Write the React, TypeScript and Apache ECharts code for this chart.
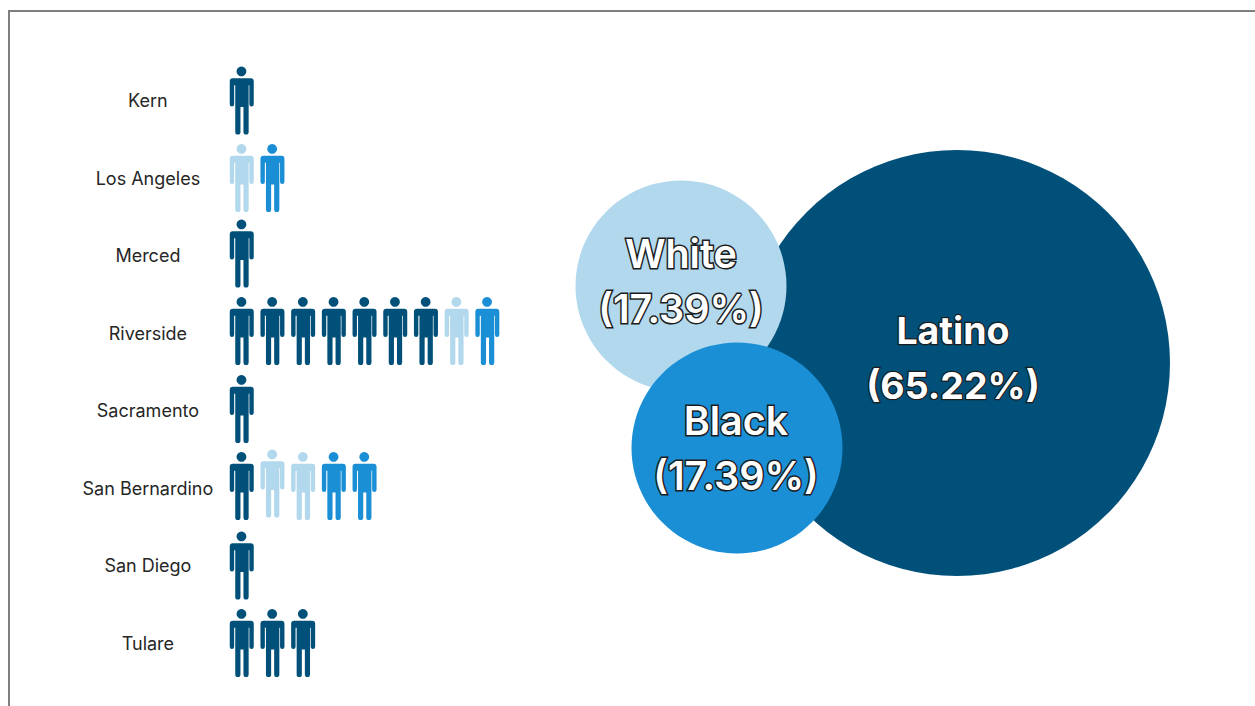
import React, { useEffect, useRef } from "react";
import * as echarts from "echarts";

const counties = ["Kern", "Los Angeles", "Merced", "Riverside", "Sacramento", "San Bernardino", "San Diego", "Tulare"];
const latinoCounts = [1, 0, 1, 7, 1, 1, 1, 3];
const whiteCounts = [0, 1, 0, 1, 0, 2, 0, 0];
const blackCounts = [0, 1, 0, 1, 0, 2, 0, 0];

const groups = ["Latino", "White", "Black"];
const shares = [65.22, 17.39, 17.39];

const NAVY = "#00507A";
const PALE = "#B1D8EC";
const BLUE = "#1A8FD6";
const groupColors = [NAVY, PALE, BLUE];

// Bubble placement, in page pixels, and diameters per group.
const bubbleX = [957, 681, 737];
const bubbleY = [363, 286, 448];
const bubbleDiameters = [426, 211, 211];

// Hand spacing of the rows: upward shift of each row, in pixels.
const rowShift = [0, 0, 2, 2, 1.5, 2, 0, 0];

// A standing figure drawn in a 24 x 68 box.
const PERSON =
  "path://M11.7 0.2a4.9 4.9 0 1 0 0.01 0Z" +
  "M3 12H21Q24 12 24 15V37.8a2.2 2.2 0 0 1-4.4 0V19H18.9V65.4a2.6 2.6 0 0 1-5.2 0V40.5H10.7V65.4a2.6 2.6 0 0 1-5.2 0V19H4.4V37.8a2.2 2.2 0 0 1-4.4 0V15Q0 12 3 12Z";

// One figure per person: each county's row runs navy, then pale, then mid blue.
function peoplePoints(row: number) {
  const colors = [
    ...Array(latinoCounts[row]).fill(NAVY),
    ...Array(whiteCounts[row]).fill(PALE),
    ...Array(blackCounts[row]).fill(BLUE),
  ];
  return colors.map((color, i) => ({
    value: [i + 0.5, counties[row]],
    // The first pale figure in the San Bernardino row sits a little higher.
    symbolOffset: [0, -rowShift[row] - (row === 5 && i === 1 ? 2.5 : 0)],
    itemStyle: { color, opacity: 1 },
  }));
}

export default function App() {
  const ref = useRef<HTMLDivElement>(null);

  useEffect(() => {
    document.body.style.margin = "0";
    const chart = echarts.init(ref.current!, undefined, { renderer: "svg" });
    chart.setOption({
      animation: false,
      backgroundColor: "#ffffff",
      graphic: [
        { type: "line", shape: { x1: 8, y1: 11, x2: 1255, y2: 11 }, style: { stroke: "#7F7F7F", lineWidth: 2 } },
        { type: "line", shape: { x1: 9, y1: 10, x2: 9, y2: 706 }, style: { stroke: "#7F7F7F", lineWidth: 2 } },
      ],
      grid: [
        { left: 226.4, top: 61.75, width: 307, height: 620 },
        { left: 0, top: 0, width: 1255, height: 706 },
      ],
      xAxis: [
        { gridIndex: 0, type: "value", min: 0, max: 10, show: false },
        { gridIndex: 1, type: "value", min: 0, max: 1255, show: false },
      ],
      yAxis: [
        {
          gridIndex: 0,
          type: "category",
          inverse: true,
          data: counties,
          axisLine: { show: false },
          axisTick: { show: false },
          splitLine: { show: false },
          axisLabel: {
            margin: 78.5,
            align: "center",
            color: "#262626",
            fontFamily: "Inter",
            fontSize: 18,
          },
        },
        { gridIndex: 1, type: "value", min: 0, max: 706, inverse: true, show: false },
      ],
      series: [
        {
          type: "scatter",
          xAxisIndex: 0,
          yAxisIndex: 0,
          symbol: PERSON,
          symbolSize: [24, 68],
          symbolKeepAspect: false,
          data: counties.flatMap((_, row) => peoplePoints(row)),
        },
        {
          type: "scatter",
          xAxisIndex: 1,
          yAxisIndex: 1,
          symbol: "circle",
          data: groups.map((name, i) => ({
            name,
            value: [bubbleX[i], bubbleY[i], shares[i]],
            symbolSize: bubbleDiameters[i],
            itemStyle: { color: groupColors[i], opacity: 1 },
            label: {
              show: true,
              position: "inside",
              offset: i === 0 ? [-4, -5] : i === 1 ? [0, -5] : [-1, 0],
              formatter: `${name}\n(${shares[i].toFixed(2)}%)`,
              color: "#ffffff",
              fontFamily: "Inter",
              fontWeight: i === 0 ? 700 : 600,
              fontSize: i === 0 ? 37.5 : 39.5,
              lineHeight: 55,
              textBorderColor: "#1c1c1c",
              textBorderWidth: i === 0 ? 2.5 : 3,
            },
          })),
        },
      ],
    });
    return () => chart.dispose();
  }, []);

  return <div ref={ref} style={{ width: 1255, height: 706 }} />;
}
